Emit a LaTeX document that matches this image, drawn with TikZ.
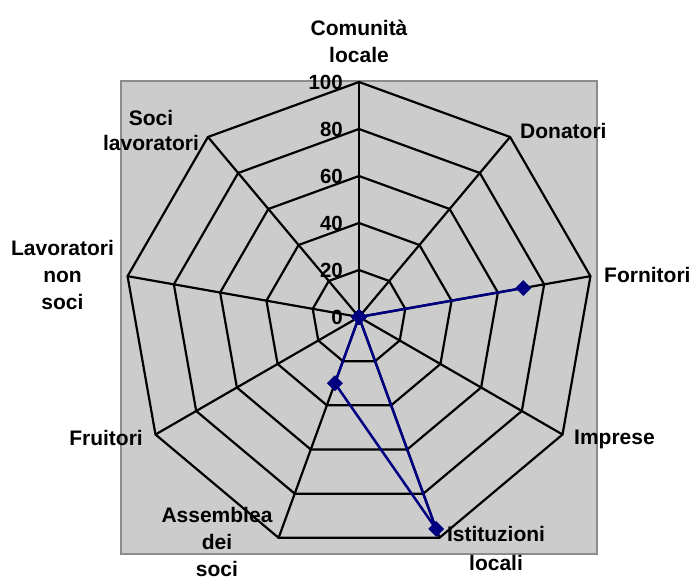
\documentclass[tikz,border=0pt]{standalone}
\usepackage{fontspec}
\setmainfont{Liberation Sans}
\usetikzlibrary{shapes.geometric,calc}
\definecolor{plotbg}{RGB}{204,204,204}
\definecolor{plotframe}{RGB}{140,140,140}
\definecolor{series}{RGB}{0,0,128}
\begin{document}
\begin{tikzpicture}[x=1pt,y=1pt,
  lbl/.style={font=\fontsize{21}{27}\selectfont\bfseries, inner sep=0pt, align=center},
  vallbl/.style={font=\fontsize{20.5}{24}\selectfont\bfseries, inner sep=0pt, anchor=east},
  grid/.style={draw=black, line width=2.2pt, line join=miter},
  dataline/.style={draw=series, line width=2.5pt},
  marker/.style={diamond, fill=series, inner sep=0pt, minimum size=16pt}]
\useasboundingbox (0,0) rectangle (693,581);
\node[draw=plotframe, line width=2pt, fill=plotbg, minimum width=476pt, minimum height=473pt, inner sep=0pt] (area) at (359,263.5) {};
\coordinate (C) at (359,264);
% rings
\foreach \k in {1,...,5}{
  \draw[grid] ($(C)+(90:{47*\k})$)
    \foreach \a in {50,10,-30,-70,-110,-150,170,130}{ -- ($(C)+(\a:{47*\k})$) } -- cycle;
}
% spokes
\foreach \a/\n in {90/a1,50/a2,10/a3,-30/a4,-70/a5,-110/a6,-150/a7,170/a8,130/a9}{
  \coordinate (\n) at ($(C)+(\a:235)$);
  \draw[grid] (C) -- (\n);
}
% value labels
\foreach \v in {0,20,40,60,80,100}{
  \node[vallbl] (v\v) at (343,{264+2.35*\v}) {\v};
}
% axis labels
\node[lbl] (l1) at (359,540) {Comunità\\locale};
\node[lbl, anchor=west] (l2) at (520,450) {Donatori};
\node[lbl, anchor=west] (l3) at (604,306) {Fornitori};
\node[lbl, anchor=west] (l4) at (574,142) {Imprese};
\node[lbl, font=\fontsize{21}{29}\selectfont\bfseries] (l5) at (496,33) {Istituzioni\\locali};
\node[lbl, font=\fontsize{21}{27}\selectfont\bfseries, anchor=south] (l6) at (217,4) {Assemblea\\dei\\soci};
\node[lbl, anchor=east] (l7) at (143,143) {Fruitori};
\node[lbl] (l8) at (62.5,306) {Lavoratori\\non\\soci};
\node[lbl, font=\fontsize{21}{25}\selectfont\bfseries] (l9) at (151,451) {Soci\\lavoratori};
% data points
\coordinate (d1) at (C);
\coordinate (d2) at (C);
\coordinate (d3) at ($(C)+(10:{2.35*71})$);
\coordinate (d4) at (C);
\coordinate (d5) at ($(C)+(-70:{2.35*96})$);
\coordinate (d6) at ($(C)+(-110:{2.35*30})$);
\coordinate (d7) at (C);
\coordinate (d8) at (C);
\coordinate (d9) at (C);
\draw[dataline] (d1) -- (d2) -- (d3) -- (d4) -- (d5) -- (d6) -- (d7) -- (d8) -- (d9) -- cycle;
\foreach \i in {1,...,9}{
  \node[marker] (m\i) at (d\i) {};
}
\end{tikzpicture}
\end{document}
